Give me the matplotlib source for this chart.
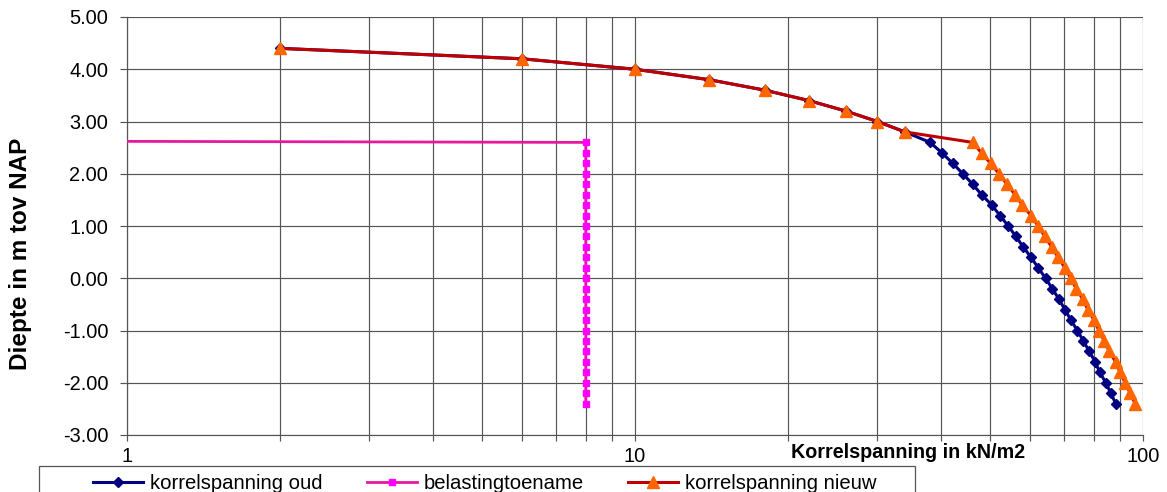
import matplotlib
matplotlib.use("Agg")
import matplotlib.pyplot as plt
from matplotlib.patches import Rectangle
from matplotlib.ticker import LogLocator, FixedLocator, FuncFormatter, NullFormatter

plt.rcParams['font.family'] = ['Liberation Sans', 'DejaVu Sans']
plt.rcParams['axes.unicode_minus'] = False

# Depth levels (m t.o.v. NAP)
depth = [4.4, 4.2, 4.0, 3.8, 3.6, 3.4, 3.2, 3.0, 2.8, 2.6, 2.4, 2.2, 2.0, 1.8,
         1.6, 1.4, 1.2, 1.0, 0.8, 0.6, 0.4, 0.2, 0.0, -0.2, -0.4, -0.6, -0.8,
         -1.0, -1.2, -1.4, -1.6, -1.8, -2.0, -2.2, -2.4]

# Effective grain stress before loading (kN/m2)
korrel_oud = [2, 6, 10, 14, 18, 22, 26, 30, 34, 38.1, 40.2, 42.2, 44.2, 46.2,
              48.1, 50.4, 52.3, 54.3, 56.2, 58.1, 60.2, 62.2, 64.3, 66.3, 68.3,
              70.2, 72.1, 74.3, 76.3, 78.4, 80.5, 82.2, 84.5, 86.4, 88.4]

# Effective grain stress after loading (kN/m2)
korrel_nieuw = [2, 6, 10, 14, 18, 22, 26, 30, 34, 46.2, 48.1, 50.1, 52.1, 54.0,
                56.0, 57.9, 60.2, 62.2, 64.1, 66.1, 68.1, 70.2, 72.1, 73.9, 76.1,
                77.9, 80.1, 81.9, 83.9, 85.9, 88.3, 90.2, 92.2, 94.4, 96.5]

# Load increase: lead-in from the axis edge, then constant over depth
belasting_x = [1, 8, 8, 8, 8, 8, 8, 8, 8, 8, 8, 8, 8, 8, 8, 8, 8, 8, 8, 8, 8,
               8, 8, 8, 8, 8, 8]
belasting_y = [2.62, 2.6, 2.4, 2.2, 2.0, 1.8, 1.6, 1.4, 1.2, 1.0, 0.8, 0.6, 0.4,
               0.2, 0.0, -0.2, -0.4, -0.6, -0.8, -1.0, -1.2, -1.4, -1.6, -1.8,
               -2.0, -2.2, -2.4]

y_ticks = [5, 4, 3, 2, 1, 0, -1, -2, -3]
x_major = [1, 10, 100]

W, H = 1167, 492
fig = plt.figure(figsize=(W / 100, H / 100), dpi=100)
ax = fig.add_axes([127 / W, 1 - 435 / H, (1143 - 127) / W, (435 - 17) / H])

ax.set_xscale('log')
ax.set_xlim(1, 100)
ax.set_ylim(-3, 5)

grid_c = '#555555'
ax.grid(True, which='major', axis='both', color=grid_c, lw=0.85, zorder=0)
ax.grid(True, which='minor', axis='x', color=grid_c, lw=0.85, zorder=0)
ax.set_axisbelow(True)

ax.plot(korrel_oud, depth, color='#000080', lw=2.2, marker='D', ms=5,
        mfc='#000080', mec='#000080', label='korrelspanning oud', zorder=3)
ax.plot(belasting_x, belasting_y, color='#E8189C', lw=2.0, marker='s', ms=4.5,
        mfc='#FF00FF', mec='#FF00FF', markevery=slice(1, None),
        label='belastingtoename', zorder=3)
ax.plot(korrel_nieuw, depth, color='#C00000', lw=2.2, marker='^', ms=8.5,
        mfc='#FF6600', mec='#FF6600', label='korrelspanning nieuw', zorder=4)

ax.yaxis.set_major_locator(FixedLocator(y_ticks))
ax.yaxis.set_major_formatter(FuncFormatter(lambda v, p: f'{v:.2f}'))
ax.xaxis.set_major_locator(FixedLocator(x_major))
ax.xaxis.set_minor_locator(LogLocator(base=10, subs=range(2, 10)))
ax.xaxis.set_major_formatter(FuncFormatter(lambda v, p: f'{v:g}'))
ax.xaxis.set_minor_formatter(NullFormatter())

ax.tick_params(axis='y', which='major', direction='out', length=5, width=0.85,
               color=grid_c, labelsize=14.4, pad=8.5)
ax.tick_params(axis='x', which='both', direction='out', length=4, width=0.85,
               color=grid_c, labelsize=14.4, pad=5)

for side in ['left', 'bottom']:
    ax.spines[side].set_color(grid_c)
    ax.spines[side].set_linewidth(0.85)
for side in ['top', 'right']:
    ax.spines[side].set_visible(False)

fig.text(21 / W, 1 - 254 / H, 'Diepte in m tov NAP', rotation=90,
         ha='center', va='center', fontsize=17.5, fontweight='bold')
fig.text(908 / W, 1 - 453 / H, 'Korrelspanning in kN/m2',
         ha='center', va='center', fontsize=14.2, fontweight='bold')

# Legend box along the bottom edge (its lower border runs off the figure)
box_left, box_right, box_top = 39, 915, 466
fig.patches.append(Rectangle((box_left / W, -10 / H),
                             (box_right - box_left) / W, (H - box_top + 10) / H,
                             transform=fig.transFigure, facecolor='white',
                             edgecolor='#555555', lw=0.9, zorder=1))

handles, labels = ax.get_legend_handles_labels()
leg = fig.legend(handles, labels, ncol=3, loc='upper left',
                 bbox_to_anchor=(93 / W, 1 - 474 / H), borderaxespad=0,
                 borderpad=0, fontsize=14.6, handlelength=2.45,
                 handletextpad=0.35, columnspacing=2.2, frameon=False)
leg.set_zorder(2)

fig.savefig('out.png', dpi=100)
